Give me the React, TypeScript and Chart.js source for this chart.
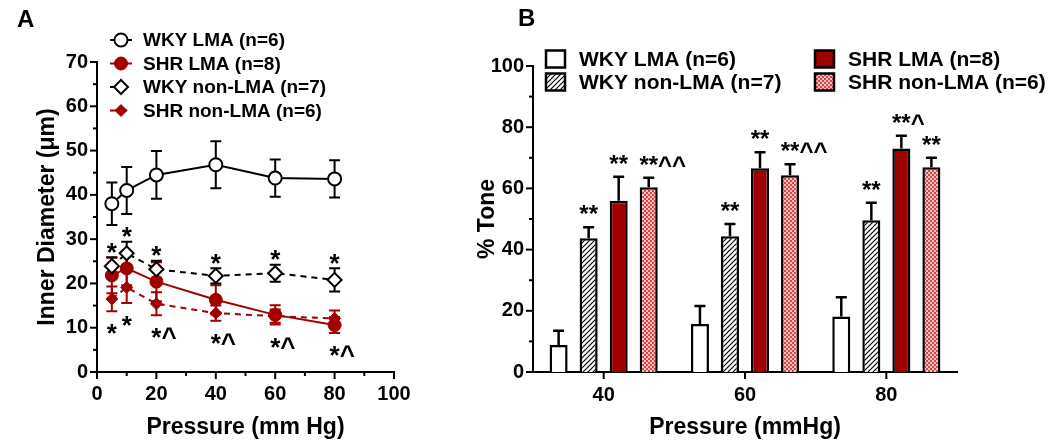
import React, { useEffect, useRef } from 'react';
import { Chart, registerables } from 'chart.js';

Chart.register(...registerables);

const FONT = '"Liberation Sans", Arial, Helvetica, sans-serif';
const RED = '#a00000';

// ---------- Panel A: inner diameter vs pressure ----------
const pressureA = [5, 10, 20, 40, 60, 80];
const wkyLmaDiam = [38.0, 41.0, 44.5, 46.8, 43.8, 43.6];
const wkyLmaSem = [4.8, 5.3, 5.4, 5.3, 4.2, 4.2];
const shrLmaDiam = [21.8, 23.4, 20.4, 16.3, 12.9, 10.6];
const shrLmaSem = [4.0, 3.8, 4.4, 3.3, 2.2, 1.8];
const wkyNonDiam = [23.9, 26.8, 23.2, 21.7, 22.3, 20.8];
const wkyNonSem = [2.0, 2.6, 1.9, 1.7, 1.9, 2.6];
const shrNonDiam = [16.5, 19.1, 15.4, 13.3, 12.6, 12.1];
const shrNonSem = [2.8, 3.5, 2.6, 1.7, 1.5, 1.8];
const sigAboveA = ['*', '*', '*', '*', '*', '*'];
const sigBelowA = ['*', '*', '*^', '*^', '*^', '*^'];
const legendA = ['WKY LMA (n=6)', 'SHR LMA (n=8)', 'WKY non-LMA (n=7)', 'SHR non-LMA (n=6)'];

// ---------- Panel B: % tone ----------
const pressureB = ['40', '60', '80'];
const wkyLmaTone = [8.8, 15.7, 18.1];
const wkyLmaToneSem = [4.7, 5.9, 6.3];
const wkyNonTone = [43.7, 44.4, 49.6];
const wkyNonToneSem = [3.6, 4.0, 5.7];
const shrLmaTone = [56.0, 66.6, 73.0];
const shrLmaToneSem = [7.8, 5.2, 4.2];
const shrNonTone = [60.4, 64.3, 66.9];
const shrNonToneSem = [3.1, 3.6, 3.1];
const sigWkyLmaB = ['', '', ''];
const sigWkyNonB = ['**', '**', '**'];
const sigShrLmaB = ['**', '**', '**^'];
const sigShrNonB = ['**^^', '**^^', '**'];
const legendB = ['WKY LMA (n=6)', 'WKY non-LMA (n=7)', 'SHR LMA (n=8)', 'SHR non-LMA (n=6)'];

function drawMarker(ctx: CanvasRenderingContext2D, style: string, x: number, y: number, r: number, fill: string, stroke: string, bw: number) {
  ctx.beginPath();
  if (style === 'circle') {
    ctx.arc(x, y, r, 0, Math.PI * 2);
  } else {
    ctx.moveTo(x - r, y);
    ctx.lineTo(x, y - r);
    ctx.lineTo(x + r, y);
    ctx.lineTo(x, y + r);
    ctx.closePath();
  }
  ctx.fillStyle = fill;
  ctx.fill();
  ctx.lineWidth = bw;
  ctx.strokeStyle = stroke;
  ctx.stroke();
}

function drawSig(ctx: CanvasRenderingContext2D, text: string, cx: number, baseline: number) {
  if (!text) return;
  const m = text.match(/^\*+/);
  const stars = m ? m[0] : text;
  const w = ctx.measureText(stars).width;
  ctx.textAlign = 'left';
  ctx.textBaseline = 'alphabetic';
  ctx.fillText(text, cx - w / 2, baseline);
}

const tickMarksPlugin = {
  id: 'tickMarks',
  afterDraw(chart: any, _args: any, opts: any) {
    const { ctx, chartArea } = chart;
    const xs = chart.scales.x;
    const ys = chart.scales.y;
    ctx.save();
    ctx.strokeStyle = '#000';
    ctx.lineWidth = 2;
    xs.ticks.forEach((t: any, i: number) => {
      const px = xs.getPixelForTick(i);
      const major = !opts.xMajor || t.value % opts.xMajor === 0;
      const len = major ? 7 : 4;
      ctx.beginPath();
      ctx.moveTo(px, chartArea.bottom);
      ctx.lineTo(px, chartArea.bottom + len);
      ctx.stroke();
    });
    ys.ticks.forEach((t: any, i: number) => {
      const py = ys.getPixelForTick(i);
      const major = !opts.yMajor || t.value % opts.yMajor === 0;
      const len = major ? 7 : 4;
      ctx.beginPath();
      ctx.moveTo(chartArea.left - len, py);
      ctx.lineTo(chartArea.left, py);
      ctx.stroke();
    });
    ctx.restore();
  },
};

const errorBarsAPlugin = {
  id: 'errorBarsA',
  beforeDatasetsDraw(chart: any) {
    const { ctx } = chart;
    const ys = chart.scales.y;
    chart.data.datasets.forEach((ds: any, i: number) => {
      const meta = chart.getDatasetMeta(i);
      ctx.save();
      ctx.strokeStyle = ds.errColor;
      ctx.lineWidth = 2;
      meta.data.forEach((pt: any, j: number) => {
        const v = ds.data[j].y;
        const e = ds.errors[j];
        const px = pt.x;
        const yt = ys.getPixelForValue(v + e);
        const yb = ys.getPixelForValue(v - e);
        ctx.beginPath();
        ctx.moveTo(px, yt);
        ctx.lineTo(px, yb);
        ctx.moveTo(px - 5.5, yt);
        ctx.lineTo(px + 5.5, yt);
        ctx.moveTo(px - 5.5, yb);
        ctx.lineTo(px + 5.5, yb);
        ctx.stroke();
      });
      ctx.restore();
    });
  },
};

const sigAPlugin = {
  id: 'sigA',
  afterDatasetsDraw(chart: any) {
    const { ctx } = chart;
    const xs = chart.scales.x;
    const ys = chart.scales.y;
    ctx.save();
    ctx.fillStyle = '#000';
    ctx.font = `bold 26px ${FONT}`;
    pressureA.forEach((p, j) => {
      const px = xs.getPixelForValue(p);
      const topY = ys.getPixelForValue(wkyNonDiam[j] + wkyNonSem[j]);
      drawSig(ctx, sigAboveA[j], px, topY + 3.5);
      const low = Math.min(shrLmaDiam[j] - shrLmaSem[j], shrNonDiam[j] - shrNonSem[j]);
      const lowY = ys.getPixelForValue(low);
      drawSig(ctx, sigBelowA[j], px, lowY + 31);
    });
    ctx.restore();
  },
};

const legendAPlugin = {
  id: 'legendA',
  afterDraw(chart: any) {
    const { ctx } = chart;
    ctx.save();
    chart.data.datasets.forEach((ds: any, i: number) => {
      const y = 40 + i * 23.5;
      ctx.strokeStyle = ds.borderColor;
      ctx.lineWidth = 2;
      ctx.setLineDash(ds.borderDash || []);
      ctx.beginPath();
      ctx.moveTo(110, y);
      ctx.lineTo(132, y);
      ctx.stroke();
      ctx.setLineDash([]);
      drawMarker(ctx, ds.pointStyle, 121, y, ds.pointRadius, ds.pointBackgroundColor, ds.pointBorderColor, ds.pointBorderWidth);
      ctx.fillStyle = '#000';
      ctx.font = `bold 19px ${FONT}`;
      ctx.textAlign = 'left';
      ctx.textBaseline = 'middle';
      ctx.fillText(ds.label, 143, y + 1);
    });
    ctx.restore();
  },
};

const barExtrasPlugin = {
  id: 'barExtras',
  afterDatasetsDraw(chart: any) {
    const { ctx } = chart;
    const ys = chart.scales.y;
    chart.data.datasets.forEach((ds: any, i: number) => {
      const meta = chart.getDatasetMeta(i);
      meta.data.forEach((bar: any, j: number) => {
        const v = ds.data[j];
        const e = ds.errors[j];
        const yTop = ys.getPixelForValue(v + e);
        ctx.save();
        ctx.strokeStyle = '#000';
        ctx.lineWidth = 2.5;
        ctx.beginPath();
        ctx.moveTo(bar.x, bar.y);
        ctx.lineTo(bar.x, yTop);
        ctx.moveTo(bar.x - 5.5, yTop);
        ctx.lineTo(bar.x + 5.5, yTop);
        ctx.stroke();
        ctx.fillStyle = '#000';
        ctx.font = `bold 24px ${FONT}`;
        drawSig(ctx, ds.sig[j], bar.x, yTop - 5);
        ctx.restore();
      });
    });
  },
};

const legendBPlugin = {
  id: 'legendB',
  afterDraw(chart: any) {
    const { ctx } = chart;
    const cols = [96, 365];
    const rows = [59, 82];
    ctx.save();
    chart.data.datasets.forEach((ds: any, i: number) => {
      const bx = cols[Math.floor(i / 2)];
      const cy = rows[i % 2];
      ctx.fillStyle = ds.backgroundColor;
      ctx.fillRect(bx, cy - 8.5, 19, 17);
      ctx.strokeStyle = '#000';
      ctx.lineWidth = 2.5;
      ctx.strokeRect(bx, cy - 8.5, 19, 17);
      ctx.fillStyle = '#000';
      ctx.font = `bold 21px ${FONT}`;
      ctx.textAlign = 'left';
      ctx.textBaseline = 'middle';
      ctx.fillText(ds.label, bx + 33, cy + 1);
    });
    ctx.restore();
  },
};

function makeHatch(): CanvasPattern | string {
  const c = document.createElement('canvas');
  c.width = 5;
  c.height = 5;
  const g = c.getContext('2d');
  if (!g) return '#fff';
  g.fillStyle = '#fff';
  g.fillRect(0, 0, 5, 5);
  g.strokeStyle = '#000';
  g.lineWidth = 1.2;
  g.beginPath();
  g.moveTo(-1, 6);
  g.lineTo(6, -1);
  g.moveTo(-1, 1);
  g.lineTo(1, -1);
  g.moveTo(4, 6);
  g.lineTo(6, 4);
  g.stroke();
  return g.createPattern(c, 'repeat') || '#fff';
}

function makeChecker(): CanvasPattern | string {
  const c = document.createElement('canvas');
  c.width = 4;
  c.height = 4;
  const g = c.getContext('2d');
  if (!g) return '#e88';
  g.fillStyle = '#f8c2c2';
  g.fillRect(0, 0, 4, 4);
  g.fillStyle = '#d84444';
  g.fillRect(0, 0, 2, 2);
  g.fillRect(2, 2, 2, 2);
  return g.createPattern(c, 'repeat') || '#e88';
}

const tickFont = { family: FONT, size: 20, weight: 'bold' as const };
const titleFont = { family: FONT, size: 23, weight: 'bold' as const };

export default function App() {
  const refA = useRef<HTMLCanvasElement | null>(null);
  const refB = useRef<HTMLCanvasElement | null>(null);

  useEffect(() => {
    if (!refA.current || !refB.current) return;
    const pts = (vals: number[]) => pressureA.map((p, i) => ({ x: p, y: vals[i] }));

    const chartA = new Chart(refA.current, {
      type: 'line',
      data: {
        datasets: [
          {
            label: legendA[0], data: pts(wkyLmaDiam), errors: wkyLmaSem, errColor: '#000',
            borderColor: '#000', borderWidth: 2, pointStyle: 'circle', pointRadius: 6.5,
            pointBackgroundColor: '#fff', pointBorderColor: '#000', pointBorderWidth: 2, order: 0,
          } as any,
          {
            label: legendA[1], data: pts(shrLmaDiam), errors: shrLmaSem, errColor: RED,
            borderColor: RED, borderWidth: 2, pointStyle: 'circle', pointRadius: 6.5,
            pointBackgroundColor: RED, pointBorderColor: RED, pointBorderWidth: 1, order: 2,
          } as any,
          {
            label: legendA[2], data: pts(wkyNonDiam), errors: wkyNonSem, errColor: '#000',
            borderColor: '#000', borderWidth: 2, borderDash: [6, 5], pointStyle: 'rectRot', pointRadius: 7,
            pointBackgroundColor: '#fff', pointBorderColor: '#000', pointBorderWidth: 2, order: 1,
          } as any,
          {
            label: legendA[3], data: pts(shrNonDiam), errors: shrNonSem, errColor: RED,
            borderColor: RED, borderWidth: 2, borderDash: [6, 5], pointStyle: 'rectRot', pointRadius: 6,
            pointBackgroundColor: RED, pointBorderColor: RED, pointBorderWidth: 1, order: 3,
          } as any,
        ],
      },
      options: {
        responsive: false,
        animation: false,
        events: [],
        layout: { padding: { left: 0, top: 62, right: 56, bottom: 0 } },
        plugins: {
          legend: { display: false },
          tooltip: { enabled: false },
          tickMarks: { xMajor: 20, yMajor: 10 },
        } as any,
        scales: {
          x: {
            type: 'linear', min: 0, max: 100,
            afterFit: (s: any) => { s.height = 74; },
            grid: { display: false, drawTicks: false },
            border: { display: true, color: '#000', width: 2 },
            ticks: {
              stepSize: 10, color: '#000', font: tickFont, padding: 10, maxRotation: 0, autoSkip: false,
              callback: (v: any) => (Number(v) % 20 === 0 ? String(v) : ''),
            },
            title: { display: true, text: 'Pressure (mm Hg)', color: '#000', font: titleFont, padding: { top: 0, bottom: 5 } },
          },
          y: {
            type: 'linear', min: 0, max: 70,
            afterFit: (s: any) => { s.width = 97; },
            grid: { display: false, drawTicks: false },
            border: { display: true, color: '#000', width: 2 },
            ticks: {
              stepSize: 5, color: '#000', font: tickFont, padding: 9, autoSkip: false,
              callback: (v: any) => (Number(v) % 10 === 0 ? String(v) : ''),
            },
            title: { display: true, text: 'Inner Diameter (μm)', color: '#000', font: titleFont, padding: { top: 34, bottom: 0 } },
          },
        },
      } as any,
      plugins: [errorBarsAPlugin, sigAPlugin, tickMarksPlugin, legendAPlugin],
    });

    const hatch = makeHatch();
    const checker = makeChecker();

    const chartB = new Chart(refB.current, {
      type: 'bar',
      data: {
        labels: pressureB,
        datasets: [
          { label: legendB[0], data: wkyLmaTone, errors: wkyLmaToneSem, sig: sigWkyLmaB, backgroundColor: '#fff', borderColor: '#000', borderWidth: 2.5 } as any,
          { label: legendB[1], data: wkyNonTone, errors: wkyNonToneSem, sig: sigWkyNonB, backgroundColor: hatch, borderColor: '#000', borderWidth: 2.5 } as any,
          { label: legendB[2], data: shrLmaTone, errors: shrLmaToneSem, sig: sigShrLmaB, backgroundColor: RED, borderColor: '#000', borderWidth: 2.5 } as any,
          { label: legendB[3], data: shrNonTone, errors: shrNonToneSem, sig: sigShrNonB, backgroundColor: checker, borderColor: '#000', borderWidth: 2.5 } as any,
        ],
      },
      options: {
        responsive: false,
        animation: false,
        events: [],
        categoryPercentage: 0.85,
        barPercentage: 0.6,
        layout: { padding: { left: 0, top: 66, right: 93, bottom: 0 } },
        plugins: {
          legend: { display: false },
          tooltip: { enabled: false },
          tickMarks: { xMajor: 0, yMajor: 20 },
        } as any,
        scales: {
          x: {
            type: 'category', offset: true,
            afterFit: (s: any) => { s.height = 74; },
            grid: { display: false, drawTicks: false, offset: false },
            border: { display: true, color: '#000', width: 2 },
            ticks: { color: '#000', font: tickFont, padding: 11, maxRotation: 0 },
            title: { display: true, text: 'Pressure (mmHg)', color: '#000', font: titleFont, padding: { top: 0, bottom: 5 } },
          },
          y: {
            type: 'linear', min: 0, max: 100,
            afterFit: (s: any) => { s.width = 83; },
            grid: { display: false, drawTicks: false },
            border: { display: true, color: '#000', width: 2 },
            ticks: {
              stepSize: 10, color: '#000', font: tickFont, padding: 9, autoSkip: false,
              callback: (v: any) => (Number(v) % 20 === 0 ? String(v) : ''),
            },
            title: { display: true, text: '% Tone', color: '#000', font: titleFont, padding: { top: 24, bottom: 0 } },
          },
        },
      } as any,
      plugins: [barExtrasPlugin, tickMarksPlugin, legendBPlugin],
    });

    return () => {
      chartA.destroy();
      chartB.destroy();
    };
  }, []);

  return (
    <div style={{ position: 'fixed', left: 0, top: 0, width: 1050, height: 446, background: '#fff', overflow: 'hidden' }}>
      <canvas ref={refA} width={450} height={446} style={{ position: 'absolute', left: 0, top: 0, width: 450, height: 446 }} />
      <canvas ref={refB} width={600} height={446} style={{ position: 'absolute', left: 450, top: 0, width: 600, height: 446 }} />
      <div style={{ position: 'absolute', left: 17, top: 5, font: `bold 24px ${FONT}`, color: '#000' }}>A</div>
      <div style={{ position: 'absolute', left: 518, top: 4, font: `bold 24px ${FONT}`, color: '#000' }}>B</div>
    </div>
  );
}
